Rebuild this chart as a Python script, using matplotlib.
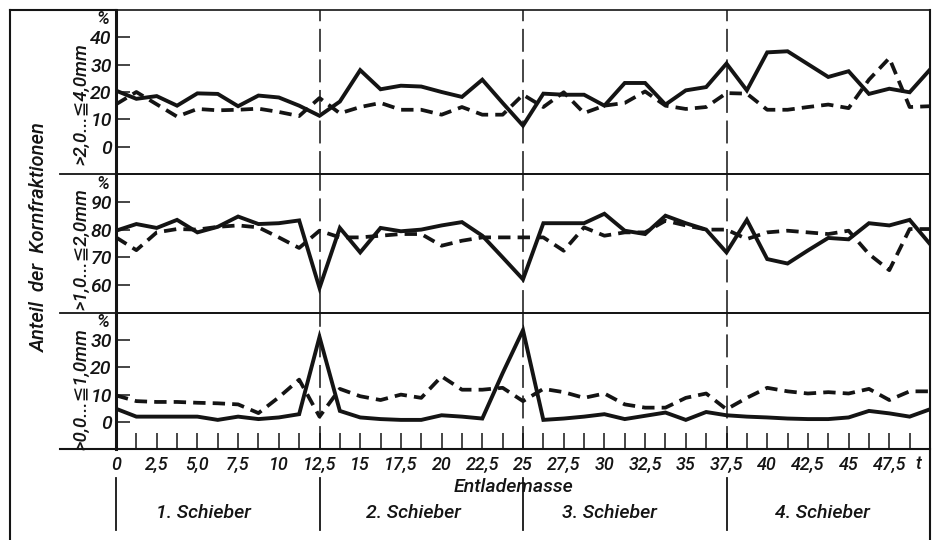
import matplotlib
matplotlib.use('Agg')
import matplotlib.pyplot as plt
from matplotlib.lines import Line2D
from matplotlib.transforms import blended_transform_factory

# ---------------- data ----------------
t = [0, 1.25, 2.5, 3.75, 5, 6.25, 7.5, 8.75, 10, 11.25, 12.5, 13.75, 15, 16.25,
     17.5, 18.75, 20, 21.25, 22.5, 23.75, 25, 26.25, 27.5, 28.75, 30, 31.25,
     32.5, 33.75, 35, 36.25, 37.5, 38.75, 40, 41.25, 42.5, 43.75, 45, 46.25,
     47.5, 48.75, 50]

# >2,0 ... <=4,0 mm
top_solid = [20.5, 17.5, 18.5, 15, 19.5, 19.3, 14.8, 18.7, 18, 15, 11.3, 16.5,
             28, 21, 22.3, 22, 20, 18.2, 24.5, 16, 7.7, 19.4, 19, 19, 15, 23.3,
             23.3, 15.4, 20.6, 21.8, 30.4, 20.6, 34.5, 34.9, 30.2, 25.5, 27.6,
             19.3, 21.2, 19.9, 28.2]
top_dash = [15.5, 20, 15.5, 11, 13.8, 13.3, 13.5, 13.9, 12.7, 11.2, 17.8, 12.2,
            14.5, 16, 13.5, 13.5, 11.7, 14.5, 11.7, 11.7, 19, 14.5, 19.9, 12.3,
            15, 16, 20.2, 15, 13.8, 14.5, 19.6, 19.4, 13.5, 13.5, 14.5, 15.4,
            14.1, 24.5, 32.4, 14.5, 14.8]

# >1,0 ... <=2,0 mm
mid_solid = [79.6, 82, 80.6, 83.5, 79, 81, 84.7, 82, 82.3, 83.3, 59, 80.6, 71.8,
             80.6, 79.4, 80, 81.5, 82.7, 77.8, 70, 62.1, 82.3, 82.3, 82.3, 85.7,
             79.6, 78.4, 85, 82.3, 80, 71.8, 83.5, 69.4, 67.8, 72.5, 77, 76.5,
             82.3, 81.5, 83.5, 74.8]
mid_dash = [77.2, 72.6, 79, 80.2, 80, 81, 81.5, 80.8, 77.2, 73.4, 79.6, 77.2,
            77.2, 77.8, 78.4, 78.4, 74.2, 76, 77.2, 77.2, 77.2, 77.2, 72.4, 80.8,
            77.8, 79, 79, 83.2, 81.5, 80, 80, 76.6, 79, 79.6, 79, 78.4, 79.6,
            71.2, 65.4, 80.2, 80.2]

# >0,0 ... <=1,0 mm
bot_solid = [4.8, 1.9, 1.9, 1.9, 1.9, 0.7, 1.9, 1, 1.6, 2.8, 31.2, 4, 1.6, 1,
             0.7, 0.7, 2.4, 1.9, 1.2, 17.9, 33.7, 0.7, 1.2, 1.9, 2.8, 1, 2.2,
             3.4, 0.7, 3.6, 2.4, 1.9, 1.6, 1.2, 1, 1, 1.6, 4, 3.1, 1.9, 4.6]
bot_dash = [9.7, 7.6, 7.3, 7.3, 7, 6.8, 6.4, 3.2, 9, 15.5, 1.9, 12.1, 9.4, 8,
            10, 8.8, 16.7, 11.8, 11.8, 12.5, 7.6, 12.1, 10.9, 8.8, 10.4, 6.4,
            5.2, 5.2, 8.8, 10.4, 4.6, 8.8, 12.5, 11.2, 10.4, 10.9, 10.4, 12.1,
            8, 11.2, 11.2]

panel_labels = ['>2,0...≦4,0mm', '>1,0...≦2,0mm', '>0,0...≦1,0mm']
panel_yticks = [[0, 10, 20, 30, 40], [60, 70, 80, 90], [0, 10, 20, 30]]
panel_ylims = [(-10, 50), (50, 100), (-10, 40)]

xtick_pos = [1.25 * k for k in range(0, 40)]
xtick_lab = ['0', '', '2,5', '', '5,0', '', '7,5', '', '10', '', '12,5', '',
             '15', '', '17,5', '', '20', '', '22,5', '', '25', '', '27,5', '',
             '30', '', '32,5', '', '35', '', '37,5', '', '40', '', '42,5', '',
             '45', '', '47,5', '']
unit_label = 't'
unit_x = 49.3
boundaries = [12.5, 25, 37.5]
schieber_pos = [0, 12.5, 25, 37.5]
schieber_lab = ['1. Schieber', '2. Schieber', '3. Schieber', '4. Schieber']
schieber_x = [5.4, 18.3, 30.3, 43.4]

# ---------------- layout ----------------
W, H = 939, 540
K = '#141414'
font = dict(family=['Roboto', 'DejaVu Sans'], style='italic', weight='medium')

fig = plt.figure(figsize=(W / 100, H / 100), dpi=100)
fig.patch.set_facecolor('white')

def fx(px):
    return px / W

def fy(py):
    return 1 - py / H

L, R = 116, 930
rows = [(10, 174), (174, 313), (313, 449)]
axes = []
for (ytop, ybot) in rows:
    ax = fig.add_axes([fx(L), fy(ybot), (R - L) / W, (ybot - ytop) / H])
    axes.append(ax)

series = [(top_solid, top_dash), (mid_solid, mid_dash), (bot_solid, bot_dash)]
for i, ax in enumerate(axes):
    s, d = series[i]
    ax.set_xlim(0, 50)
    ax.set_ylim(*panel_ylims[i])
    for b in boundaries:
        ax.axvline(b, color=K, lw=1.1, dashes=(15, 5), zorder=1)
    ax.plot(t, d, color=K, lw=2.7, dashes=(3.3, 1.9), solid_capstyle='butt',
            dash_capstyle='butt', zorder=3)
    ax.plot(t, s, color=K, lw=2.8, solid_joinstyle='miter', zorder=4)
    ax.spines['left'].set_linewidth(2.2)
    ax.spines['right'].set_linewidth(1.2)
    ax.spines['top'].set_linewidth(1.2)
    ax.spines['bottom'].set_visible(False)
    for sp in ax.spines.values():
        sp.set_color(K)
    ax.set_yticks(panel_yticks[i])
    ax.set_yticklabels([str(v) for v in panel_yticks[i]], **font, fontsize=14)
    ax.tick_params(axis='y', direction='in', length=10, width=1.1, pad=3,
                   colors=K)
    if i < 2:
        ax.set_xticks([])

# percent signs
pct_y = [19, 184, 322]
for py in pct_y:
    fig.text(fx(103), fy(py), '%', ha='center', va='center', fontsize=13,
             color=K, **font)

ax3 = axes[2]
ax3.set_xticks(xtick_pos)
ax3.set_xticklabels(xtick_lab, **font, fontsize=13)
ax3.tick_params(axis='x', direction='in', length=11.5, width=1.1, pad=5,
                colors=K)

tr = blended_transform_factory(ax3.transData, fig.transFigure)
fig.text(unit_x, fy(464), unit_label, transform=tr, ha='center', va='center',
         fontsize=13, color=K, **font)

# panel y labels
label_y = [104, 249, 389]
for lab, py in zip(panel_labels, label_y):
    fig.text(fx(81), fy(py), lab, rotation=90, ha='center', va='center',
             fontsize=13.5, color=K, **font)

fig.text(fx(39), fy(237), 'Anteil  der  Kornfraktionen', rotation=90,
         ha='center', va='center', fontsize=14.5, color=K, **font)

# frame and dividers
def fline(x0, y0, x1, y1, lw=1.3):
    fig.add_artist(Line2D([fx(x0), fx(x1)], [fy(y0), fy(y1)], color=K, lw=lw,
                          transform=fig.transFigure))

fline(10, 10, 116, 10, 1.5)
fline(10, 10, 10, 540, 1.5)
fline(930, 10, 930, 540, 1.5)
fline(60, 174, 930, 174, 1.3)
fline(60, 313, 930, 313, 1.3)
fline(60, 449, 930, 449, 1.5)

# lower section: Entlademasse and Schieber
for xp in schieber_pos:
    fig.add_artist(Line2D([xp, xp], [fy(478), fy(530)], color=K, lw=1.3,
                          transform=tr))
for xp, lab in zip(schieber_x, schieber_lab):
    fig.text(xp, fy(513), lab, transform=tr, ha='center', va='center',
             fontsize=14, color=K, **font)
fig.text(24.4, fy(487), 'Entlademasse', transform=tr, ha='center',
         va='center', fontsize=14, color=K, **font)

fig.savefig('out.png', dpi=100, facecolor='white')
